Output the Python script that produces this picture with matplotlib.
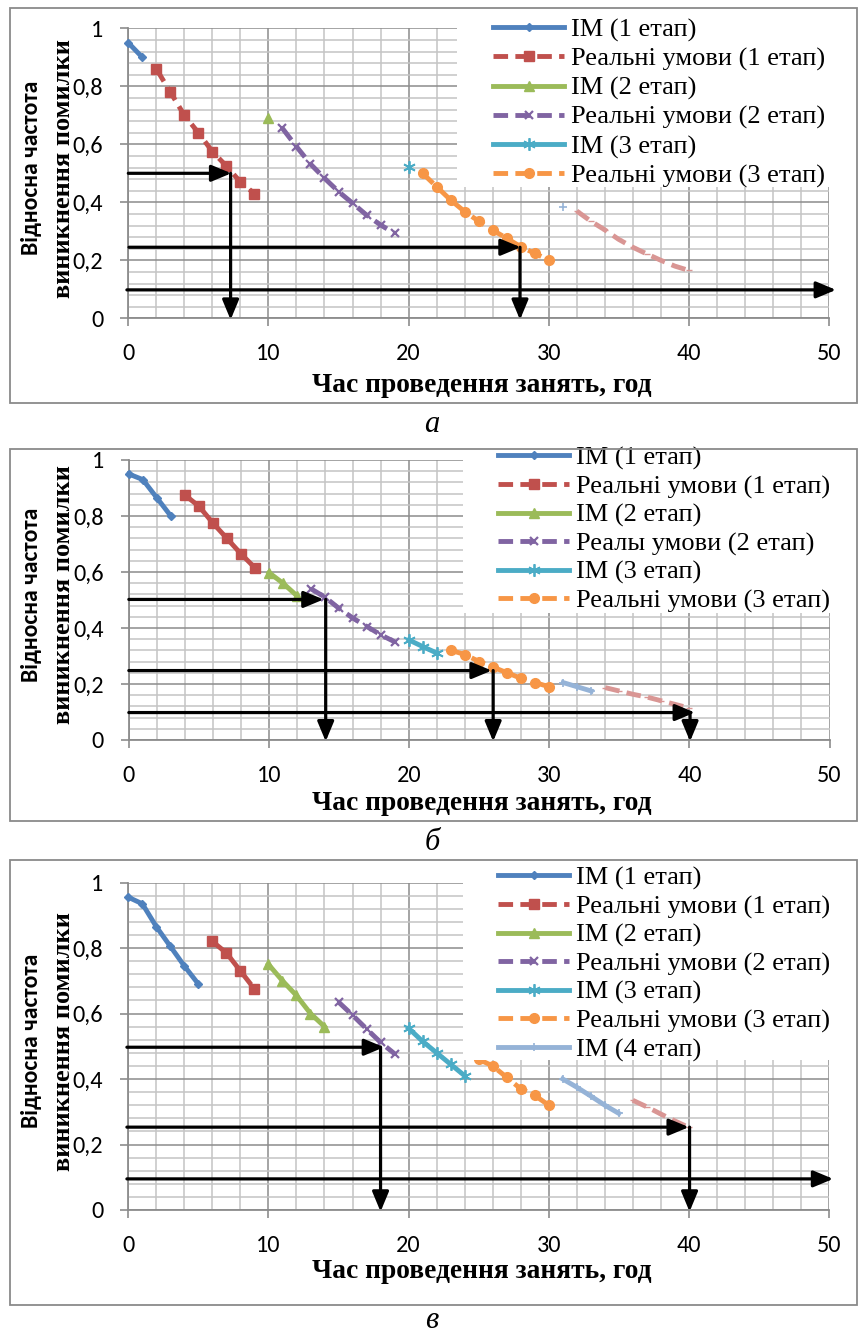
import matplotlib
matplotlib.use("Agg")
import matplotlib.pyplot as plt
from matplotlib import font_manager as fm
from matplotlib.patches import Rectangle
from matplotlib.ticker import MultipleLocator, FuncFormatter

W, H = 860, 1336

# ── дані: панель а ──
A_X = [[0, 1], list(range(2, 10)), [10], list(range(11, 20)),
       [20], list(range(21, 31)), [31], list(range(32, 41))]
A_Y = [[0.95, 0.90],
       [0.86, 0.78, 0.70, 0.64, 0.575, 0.525, 0.47, 0.43],
       [0.69],
       [0.655, 0.592, 0.532, 0.483, 0.437, 0.397, 0.356, 0.322, 0.293],
       [0.523],
       [0.50, 0.454, 0.408, 0.368, 0.335, 0.304, 0.276, 0.247, 0.224, 0.201],
       [0.383],
       [0.37, 0.335, 0.305, 0.272, 0.245, 0.222, 0.20, 0.18, 0.165]]
A_ARROWS = [((0, 0.5), (7.35, 0.5)), ((7.3, 0.5), (7.3, -0.005)),
            ((0.05, 0.245), (28.0, 0.245)), ((27.95, 0.245), (27.95, -0.005)),
            ((-0.1, 0.098), (50.5, 0.098))]

# ── дані: панель б ──
B_X = [[0, 1, 2, 3], list(range(4, 10)), [10, 11, 12], list(range(13, 20)),
       [20, 21, 22], list(range(23, 31)), [31, 32, 33], list(range(34, 41))]
B_Y = [[0.95, 0.93, 0.865, 0.80],
       [0.875, 0.835, 0.775, 0.72, 0.665, 0.615],
       [0.598, 0.56, 0.515],
       [0.54, 0.51, 0.47, 0.435, 0.405, 0.375, 0.35],
       [0.357, 0.333, 0.31],
       [0.32, 0.305, 0.28, 0.26, 0.24, 0.22, 0.205, 0.19],
       [0.205, 0.19, 0.175],
       [0.187, 0.175, 0.163, 0.153, 0.14, 0.127, 0.114]]
B_ARROWS = [((0, 0.502), (13.9, 0.502)), ((14.05, 0.502), (14.05, -0.005)),
            ((0, 0.248), (25.9, 0.248)), ((26.0, 0.248), (26.0, -0.005)),
            ((0, 0.098), (40.4, 0.098)), ((40.05, 0.098), (40.05, -0.005))]

# ── дані: панель в ──
C_X = [list(range(0, 6)), list(range(6, 10)), list(range(10, 15)), list(range(15, 20)),
       list(range(20, 25)), list(range(25, 31)), list(range(31, 36)), list(range(36, 41))]
C_Y = [[0.955, 0.935, 0.865, 0.805, 0.745, 0.69],
       [0.82, 0.785, 0.73, 0.675],
       [0.75, 0.70, 0.655, 0.60, 0.56],
       [0.635, 0.595, 0.553, 0.512, 0.477],
       [0.555, 0.515, 0.48, 0.445, 0.41],
       [0.46, 0.44, 0.405, 0.37, 0.35, 0.32],
       [0.40, 0.375, 0.348, 0.32, 0.295],
       [0.335, 0.315, 0.293, 0.272, 0.252]]
C_ARROWS = [((-0.1, 0.497), (18.25, 0.497)), ((18.0, 0.497), (18.0, -0.005)),
            ((-0.1, 0.253), (40.0, 0.253)), ((40.05, 0.253), (40.05, -0.005)),
            ((-0.1, 0.095), (50.3, 0.095))]

LABELS_A = ["IM (1 етап)", "Реальні умови (1 етап)", "IM (2 етап)",
            "Реальні умови (2 етап)", "IM (3 етап)", "Реальні умови (3 етап)"]
LABELS_B = ["IM (1 етап)", "Реальні умови (1 етап)", "IM (2 етап)",
            "Реалы умови (2 етап)", "IM (3 етап)", "Реальні умови (3 етап)"]
LABELS_C = LABELS_A + ["IM (4 етап)"]

X_TICKS = [0, 10, 20, 30, 40, 50]
Y_TICKS = [0, 0.2, 0.4, 0.6, 0.8, 1.0]

# стилі серій (як у Excel 2007)
STYLES = [
    dict(color="#4F81BD", ls="-", marker="D", ms=4),
    dict(color="#C0504D", ls="--", marker="s", ms=7),
    dict(color="#9BBB59", ls="-", marker="^", ms=7),
    dict(color="#8064A2", ls="--", marker="x", ms=6, mew=1.6),
    dict(color="#4BACC6", ls="-", marker=(6, 2, 0), ms=9, mew=1.3),
    dict(color="#F79646", ls="--", marker="o", ms=7),
    dict(color="#95B3D7", ls="-", marker="+", ms=6, mew=1.2),
    dict(color="#D99694", ls="--", marker="_", ms=5),
]

SERIF = ["Liberation Serif", "DejaVu Serif"]
# Calibri-подібний шрифт, якщо є; інакше Open Sans
try:
    fm.findfont(fm.FontProperties(family="Carlito"), fallback_to_default=False)
    SANS, TICK_FS, YLAB_FS = ["Carlito", "DejaVu Sans"], 17.5, 17
except Exception:
    SANS, TICK_FS, YLAB_FS = ["Open Sans", "DejaVu Sans"], 15.5, 13.2


def fx(px):
    return px / W


def fy(py):
    return 1 - py / H


def panel(fig, box, xs, ys, arrows, labels, leg_xy, spacing, mask, frame, caption, cap_y, xlab_y):
    left, top, right, bottom = box
    ax = fig.add_axes([fx(left), fy(bottom), (right - left) / W, (bottom - top) / H])
    ax.set_xlim(0, 50); ax.set_ylim(0, 1)
    ax.set_axisbelow(True)
    ax.xaxis.set_major_locator(MultipleLocator(10)); ax.xaxis.set_minor_locator(MultipleLocator(2))
    ax.yaxis.set_major_locator(MultipleLocator(0.2)); ax.yaxis.set_minor_locator(MultipleLocator(0.04))
    ax.grid(which="minor", color="#C4C4C4", lw=1.1)
    ax.grid(which="major", color="#8C8C8C", lw=1.1)
    for s in ["top", "right"]:
        ax.spines[s].set_visible(False)
    for s in ["left", "bottom"]:
        ax.spines[s].set_color("#8C8C8C"); ax.spines[s].set_linewidth(1.3)
    ax.tick_params(which="major", direction="out", length=6, width=1.2, color="#8C8C8C",
                   pad=12, labelsize=TICK_FS)
    ax.tick_params(which="minor", length=0)
    ax.set_xticks(X_TICKS); ax.set_yticks(Y_TICKS)
    fmt = FuncFormatter(lambda v, p: f"{v:g}".replace(".", ","))
    ax.yaxis.set_major_formatter(fmt); ax.xaxis.set_major_formatter(fmt)
    for t in ax.get_xticklabels() + ax.get_yticklabels():
        t.set_family(SANS)

    handles = []
    for x, y, st in zip(xs, ys, STYLES):
        ln, = ax.plot(x, y, lw=3.5, zorder=3, clip_on=False, **st)
        if st["ls"] == "--":
            ln.set_dashes((3.0, 1.5))
        handles.append(ln)

    # біла підкладка легенди, як в Excel
    mx0, my1 = mask
    ax.add_patch(Rectangle((fx(mx0), fy(my1)), fx(852) - fx(mx0), fy(top - 12) - fy(my1),
                           transform=fig.transFigure, facecolor="white", edgecolor="none",
                           zorder=4.5, clip_on=False))
    leg = ax.legend(handles[:len(labels)], labels, loc="upper left",
                    bbox_to_anchor=(fx(leg_xy[0]), fy(leg_xy[1])), bbox_transform=fig.transFigure,
                    frameon=False, prop=dict(family=SERIF, size=19), handlelength=2.7,
                    handletextpad=0.25, labelspacing=spacing, borderpad=0, borderaxespad=0)
    leg.set_zorder(5)

    for (x0, y0), (x1, y1) in arrows:
        ax.annotate("", xy=(x1, y1), xytext=(x0, y0), annotation_clip=False, zorder=6,
                    arrowprops=dict(arrowstyle="-|>,head_length=0.6,head_width=0.25",
                                    color="black", lw=2.3, shrinkA=0, shrinkB=0,
                                    mutation_scale=20))

    cy = (top + bottom) / 2 - 5
    fig.text(fx(32), fy(cy), "Відносна частота", rotation=90, ha="center", va="center",
             family=SANS, weight="bold", fontsize=YLAB_FS)
    fig.text(fx(63), fy(cy), "виникнення помилки", rotation=90, ha="center", va="center",
             family=SERIF, weight="bold", fontsize=19)
    fig.text(fx(482), fy(xlab_y), "Час проведення занять, год", ha="center", va="center",
             family=SERIF, weight="bold", fontsize=19.8)

    f0, f1 = frame
    fig.patches.append(Rectangle((fx(10), fy(f1)), fx(857) - fx(10), fy(f0) - fy(f1),
                                 transform=fig.transFigure, facecolor="none",
                                 edgecolor="#8A8A8A", lw=1.3))
    fig.text(fx(432), fy(cap_y), caption, ha="center", va="center",
             family=SERIF, style="italic", fontsize=22)
    return ax


fig = plt.figure(figsize=(W / 100, H / 100), dpi=100)

panel(fig, (128.3, 28.3, 829, 318.3), A_X, A_Y, A_ARROWS, LABELS_A, (493, 18), 0.2,
      (457, 187), (8, 403), "а", 425, 386)
panel(fig, (128.8, 460, 829.5, 740), B_X, B_Y, B_ARROWS, LABELS_B, (498, 446), 0.18,
      (463, 613), (449, 821), "б", 843, 803)
panel(fig, (128.3, 882.5, 829, 1210), C_X, C_Y, C_ARROWS, LABELS_C, (498, 866), 0.18,
      (463, 1060), (860, 1305), "в", 1321, 1271)

fig.savefig("out.png", dpi=100)
